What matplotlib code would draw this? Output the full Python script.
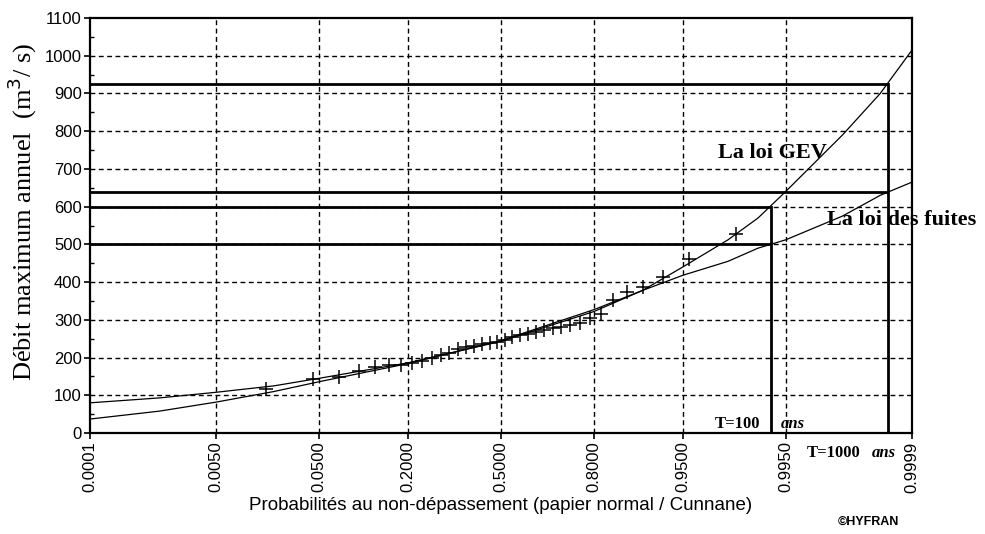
import math

import numpy as np
import matplotlib
matplotlib.use("Agg")
import matplotlib.pyplot as plt

# Probability ticks of the normal paper
prob_ticks = [0.0001, 0.0050, 0.0500, 0.2000, 0.5000, 0.8000, 0.9500, 0.9950, 0.9999]
tick_labels = ["0.0001", "0.0050", "0.0500", "0.2000", "0.5000", "0.8000", "0.9500", "0.9950", "0.9999"]

# Observed annual maxima (sorted), plotted with Cunnane positions
q_obs = [116, 143, 148, 165, 176, 179, 181, 185, 192, 200, 207, 213,
         222, 228, 231, 235, 238, 241, 247, 254, 259, 263, 267, 272,
         277, 281, 286, 292, 304, 316, 352, 374, 386, 414, 460, 527]

# Fitted curves
curve_p = [0.0001, 0.001, 0.005, 0.02, 0.05, 0.2, 0.5, 0.8, 0.9, 0.95,
           0.98, 0.99, 0.995, 0.999, 0.9997, 0.9999]
q_gev = [80, 93, 108, 125, 145, 186, 243, 322, 378, 440,
         512, 570, 640, 790, 900, 1015]
q_fuites = [37, 58, 82, 110, 136, 184, 245, 327, 378, 418,
            455, 490, 512, 575, 630, 665]

# Return period annotations
t100_p, t1000_p = 0.9928, 0.99977
q100 = [500, 600]    # fuites, GEV
q1000 = [640, 925]   # fuites, GEV


def probit(p):
    p = np.atleast_1d(np.asarray(p, dtype=float))
    erf = np.vectorize(math.erf)
    lo = np.full_like(p, -10.0)
    hi = np.full_like(p, 10.0)
    for _ in range(80):
        mid = (lo + hi) / 2
        cdf = 0.5 * (1 + erf(mid / math.sqrt(2)))
        lo = np.where(cdf < p, mid, lo)
        hi = np.where(cdf < p, hi, mid)
    return (lo + hi) / 2


n = len(q_obs)
p_obs = [(i - 0.4) / (n + 0.2) for i in range(1, n + 1)]

fig = plt.figure(figsize=(9.85, 5.34), dpi=100)
ax = fig.add_axes([90 / 985, 1 - 433 / 534, (912 - 90) / 985, (433 - 18) / 534])

z_ticks = probit(prob_ticks)
x0, x1 = z_ticks[0], z_ticks[-1]
ax.set_xlim(x0, x1)
ax.set_ylim(0, 1100)

# grid
dash = (0, (3.5, 2.5))
for z in z_ticks[1:-1]:
    ax.axvline(z, color="k", lw=1, ls=dash, zorder=1)
for q in range(100, 1100, 100):
    ax.axhline(q, color="k", lw=1, ls=dash, zorder=1)

# curves and observations
cz = probit(curve_p)
ax.plot(cz, q_gev, color="k", lw=0.9, zorder=3)
ax.plot(cz, q_fuites, color="k", lw=0.9, zorder=3)
ax.plot(probit(p_obs), q_obs, ls="none", marker="+", ms=10, mew=1.1, color="k", zorder=4)

# return period lines
zt100 = probit(t100_p)[0]
zt1000 = probit(t1000_p)[0]
for q in q100:
    ax.plot([x0, zt100], [q, q], color="k", lw=2, zorder=5, solid_capstyle="butt")
for q in q1000:
    ax.plot([x0, zt1000], [q, q], color="k", lw=2, zorder=5, solid_capstyle="butt")
ax.plot([zt100, zt100], [0, max(q100)], color="k", lw=2, zorder=5)
ax.plot([zt1000, zt1000], [0, max(q1000)], color="k", lw=2, zorder=5)

# texts
serif = "Liberation Serif"
ax.text(1.96, 729, "La loi GEV", family=serif, weight="bold", fontsize=16, va="baseline")
ax.text(2.947, 551, "La loi des fuites", family=serif, weight="bold", fontsize=16,
        va="baseline", clip_on=False)
ax.text(1.934, 13, "T=100", family=serif, weight="bold", fontsize=12, va="baseline")
ax.text(2.536, 13, "ans", family=serif, weight="bold", style="italic", fontsize=12, va="baseline")
ax.text(2.765, -64, "T=1000", family=serif, weight="bold", fontsize=12, va="baseline", clip_on=False)
ax.text(3.358, -64, "ans", family=serif, weight="bold", style="italic", fontsize=12,
        va="baseline", clip_on=False)
fig.text(838 / 985, 1 - 522 / 534, "\u00a9HYFRAN", family="Liberation Sans", weight="bold",
         fontsize=9, va="center")

# axes styling
ax.set_xticks(z_ticks)
ax.set_xticklabels(tick_labels, rotation=90, family="Liberation Sans", fontsize=12)
ax.set_yticks(range(0, 1101, 100))
ax.set_yticklabels([str(v) for v in range(0, 1101, 100)], family="Liberation Sans", fontsize=12)
ax.set_yticks(range(50, 1100, 100), minor=True)
ax.tick_params(axis="both", which="major", direction="out", length=4, width=1.2, pad=2, colors="k")
ax.tick_params(axis="y", which="minor", direction="in", length=3, width=1)
for s in ax.spines.values():
    s.set_linewidth(1.6)
    s.set_zorder(6)

ax.set_xlabel("Probabilités au non-dépassement (papier normal / Cunnane)",
              family="Liberation Sans", fontsize=13.5, labelpad=3)
fig.text(22 / 985, 1 - 212 / 534, "Débit maximum annuel  (m$^3$/ s)", family=serif,
         fontsize=19, rotation=90, ha="center", va="center")

fig.savefig("out.png", dpi=100)
